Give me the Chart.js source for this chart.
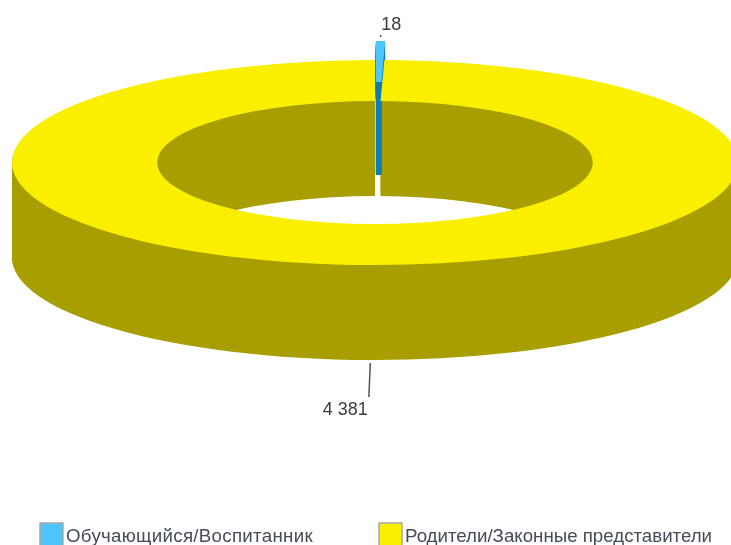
<!DOCTYPE html>
<html>
<head>
<meta charset="utf-8">
<style>html,body{margin:0;padding:0;background:#fff;overflow:hidden}canvas{display:block}</style>
<script src="https://cdn.jsdelivr.net/npm/chart.js@4"></script>
</head>
<body>
<canvas id="c" width="731" height="545"></canvas>
<script>
const categories = ["Обучающийся/Воспитанник", "Родители/Законные представители"];
const seriesValues = [18, 4381];
const topColors = ["#4DC6FF", "#FBEF00"];
const wallColors = ["#0E7DB4", "#A89E00"];
const dataLabels = ["18", "4 381"];

const view3d = { cy: 162.5, squash: 0.2824, depth: 95, explode: [19, 0] };
const legendItems = [{ box: 40, text: 66, tracking: "0.3px" }, { box: 379, text: 405, tracking: "0px" }];

function arcView(arc, color) {
  const v = Object.create(arc);
  const o = Object.create(arc.options);
  o.backgroundColor = color;
  o.borderWidth = 0;
  v.options = o;
  return v;
}
function project(chart, arc, i, d) {
  const ctx = chart.ctx, r = chart.currentDevicePixelRatio, k = view3d.squash;
  const mid = (arc.startAngle + arc.endAngle) / 2, e = view3d.explode[i] / k;
  const tx = Math.cos(mid) * e, ty = Math.sin(mid) * e;
  ctx.setTransform(r, 0, 0, r * k, r * tx, r * (view3d.cy + d + (ty - arc.y) * k));
}

const ring3d = {
  id: "ring3d",
  beforeDatasetsDraw(chart) {
    const ctx = chart.ctx, arcs = chart.getDatasetMeta(0).data;
    ctx.save();
    // yellow walls: swept layers, then recoloured flat so blending rounding leaves no streaks
    const wall = arcView(arcs[1], wallColors[1]);
    for (let d = view3d.depth; d >= 1; d--) { project(chart, arcs[1], 1, d); wall.draw(ctx); }
    ctx.setTransform(1, 0, 0, 1, 0, 0);
    ctx.globalCompositeOperation = "source-atop";
    ctx.fillStyle = wallColors[1];
    ctx.fillRect(0, 0, chart.canvas.width, chart.canvas.height);
    ctx.globalCompositeOperation = "source-over";
    // exploded slice: inner wall over the full depth, side faces only down to the ring's gap
    const side = arcView(arcs[0], wallColors[0]);
    for (let d = view3d.explode[0]; d >= 1; d--) { project(chart, arcs[0], 0, d); side.draw(ctx); }
    const inner = arcView(arcs[0], wallColors[0]);
    inner.outerRadius = arcs[0].innerRadius + 10;
    for (let d = view3d.depth - 2; d >= 1; d--) { project(chart, arcs[0], 0, d); inner.draw(ctx); }
    // top faces
    for (let i = arcs.length - 1; i >= 0; i--) {
      project(chart, arcs[i], i, 0);
      arcView(arcs[i], topColors[i]).draw(ctx);
    }
    ctx.restore();
    return false;
  },
  afterDraw(chart) {
    const ctx = chart.ctx, arcs = chart.getDatasetMeta(0).data, k = view3d.squash;
    ctx.save();
    ctx.textBaseline = "alphabetic";
    const pt = (arc, i) => {
      const m = (arc.startAngle + arc.endAngle) / 2;
      return { x: arc.x + Math.cos(m) * arc.outerRadius, y: view3d.cy + Math.sin(m) * arc.outerRadius * k - view3d.explode[i] * (Math.sin(m) < 0 ? 1 : 0) };
    };
    const a = pt(arcs[0], 0), b = pt(arcs[1], 1);
    ctx.strokeStyle = "#555";
    ctx.lineWidth = 1.5;
    ctx.beginPath();
    ctx.moveTo(a.x + 1, a.y - 4); ctx.lineTo(a.x + 1, a.y - 6);
    ctx.moveTo(b.x, b.y + view3d.depth + 3); ctx.lineTo(b.x - 1.5, b.y + view3d.depth + 37);
    ctx.stroke();
    ctx.fillStyle = "#3c3c3c";
    ctx.font = "18px 'Liberation Sans', Arial, sans-serif";
    ctx.textAlign = "left";
    ctx.fillText(dataLabels[0], a.x + 1.5, 30);
    ctx.textAlign = "right";
    ctx.fillText(dataLabels[1], b.x - 2.5, 415);
    ctx.textAlign = "left";
    ctx.font = "18.7px 'Liberation Sans', Arial, sans-serif";
    categories.forEach((t, i) => {
      const it = legendItems[i];
      ctx.fillStyle = topColors[i];
      ctx.fillRect(it.box, 523, 23, 22);
      ctx.strokeStyle = "#a8a8a8";
      ctx.lineWidth = 1.5;
      ctx.strokeRect(it.box, 523, 23, 23);
      ctx.fillStyle = "#444c58";
      ctx.letterSpacing = it.tracking;
      ctx.fillText(t, it.text, 542);
    });
    ctx.restore();
  }
};

new Chart(document.getElementById("c"), {
  type: "doughnut",
  data: {
    labels: categories,
    datasets: [{ data: seriesValues, backgroundColor: topColors, borderWidth: 0 }]
  },
  options: {
    responsive: false,
    animation: false,
    radius: 363,
    cutout: "60%",
    layout: { padding: { left: 19 } },
    plugins: { legend: { display: false }, tooltip: { enabled: false } }
  },
  plugins: [ring3d]
});
</script>
</body>
</html>
